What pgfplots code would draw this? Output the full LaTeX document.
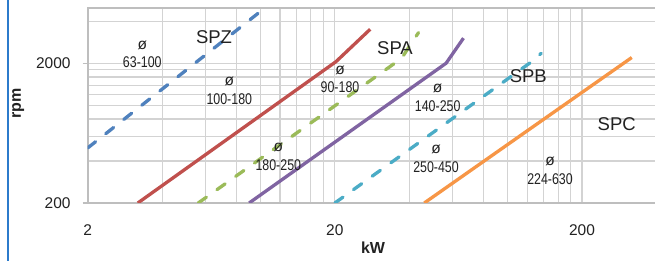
\documentclass[border=0pt]{standalone}
\usepackage{pgfplots}
\pgfplotsset{compat=1.18}
\usepackage{fontspec}
\setmainfont{Liberation Sans}
\usepackage{graphicx}
\definecolor{szblue}{HTML}{4F81BD}
\definecolor{szred}{HTML}{C0504D}
\definecolor{szgreen}{HTML}{9BBB59}
\definecolor{szpurple}{HTML}{8064A2}
\definecolor{szteal}{HTML}{4BACC6}
\definecolor{szorange}{HTML}{F79646}
\definecolor{gridgray}{HTML}{D3D3D3}
\definecolor{axgray}{HTML}{BEBEBE}
\definecolor{framebl}{HTML}{2C7BCB}
\definecolor{txt}{HTML}{222222}
\newcommand{\dl}[1]{\scalebox{0.8}[1]{#1}}
\begin{document}
\begin{tikzpicture}
\path[use as bounding box] (0pt,0pt) rectangle (655pt,-261pt);
\fill[white] (0pt,0pt) rectangle (655pt,-261pt);
\draw[framebl, line width=1.8pt] (8.3pt,0pt) -- (8.3pt,-261pt);
\begin{axis}[
  at={(87.7pt,-203pt)}, anchor=south west,
  scale only axis, width=568.7pt, height=195pt,
  xmode=log, ymode=log,
  xmin=2, xmax=400, ymin=200, ymax=5000,
  xtick={2,20,200}, xticklabels={2,20,200},
  ytick={200,2000}, yticklabels={200,2000},
  minor xtick={4,6,8,10,12,14,16,18,40,60,80,100,120,140,160,180,400},
  minor ytick={400,600,800,1000,1200,1400,1600,1800,4000},
  grid=both,
  major grid style={draw=gridgray, line width=1.1pt},
  minor grid style={draw=gridgray, line width=1.1pt},
  axis line style={draw=axgray, line width=2pt},
  tick align=outside, major tick length=5pt, minor tick length=0pt,
  tick style={draw=axgray, line width=1.2pt},
  xtick style={draw=none},
  /pgf/number format/assume math mode=true,
  tick label style={font=\fontsize{15.5}{18}\selectfont, text=txt, inner sep=0pt},
  xticklabel style={anchor=north, yshift=-16.5pt},
  yticklabel style={anchor=east, xshift=-12pt},
]
\addplot[szblue, line width=3.3pt, dash pattern=on 10pt off 13pt, line cap=round] coordinates {(2,496) (10.1,4790)};
\addplot[szred, line width=3.3pt] coordinates {(3.19,200) (20.2,2060) (27.8,3520)};
\addplot[szgreen, line width=3.3pt, dash pattern=on 10pt off 13pt, line cap=round] coordinates {(5.6,200) (35.5,2050) (38,2300) (40,2650) (43.6,3330)};
\addplot[szpurple, line width=3.3pt] coordinates {(9.0,200) (56.4,2010) (66.3,3040)};
\addplot[szteal, line width=3.3pt, dash pattern=on 10pt off 13pt, line cap=round] coordinates {(20,200) (127,2100) (136.8,2370)};
\addplot[szorange, line width=3.3pt] coordinates {(46,200) (318,2207)};
\end{axis}
\begin{scope}[every node/.style={text=txt, inner sep=0pt}]
\node[font=\fontsize{18.5}{21}\selectfont] at (214pt,-37pt) {SPZ};
\node[font=\fontsize{18.5}{21}\selectfont] at (395pt,-48.3pt) {SPA};
\node[font=\fontsize{18.5}{21}\selectfont] at (528.3pt,-76pt) {SPB};
\node[font=\fontsize{18.5}{21}\selectfont] at (616.7pt,-124pt) {SPC};
\begin{scope}[every node/.append style={font=\fontsize{15.5}{18}\selectfont}]
\node at (142.3pt,-45pt) {ø};
\node at (142.3pt,-62.5pt) {\dl{63-100}};
\node at (229.3pt,-81.7pt) {ø};
\node at (229.3pt,-99.3pt) {\dl{100-180}};
\node at (340pt,-70.7pt) {ø};
\node at (340pt,-87.3pt) {\dl{90-180}};
\node at (278.3pt,-147.3pt) {ø};
\node at (278.3pt,-165pt) {\dl{180-250}};
\node at (437.7pt,-88.3pt) {ø};
\node at (437.7pt,-106pt) {\dl{140-250}};
\node at (436pt,-149.3pt) {ø};
\node at (436pt,-166.7pt) {\dl{250-450}};
\node at (550pt,-161.7pt) {ø};
\node at (550pt,-179pt) {\dl{224-630}};
\end{scope}
\node[font=\fontsize{16}{19}\selectfont\bfseries] at (373pt,-248pt) {kW};
\node[font=\fontsize{16}{19}\selectfont\bfseries, rotate=90] at (18.3pt,-103.3pt) {rpm};
\end{scope}
\end{tikzpicture}
\end{document}
